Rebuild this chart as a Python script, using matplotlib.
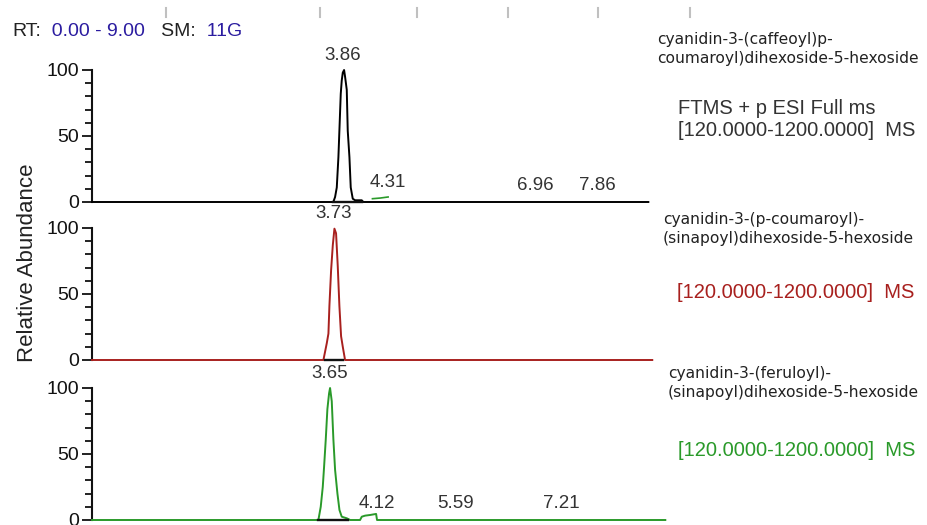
import matplotlib
matplotlib.use("Agg")
import matplotlib.pyplot as plt
from matplotlib.lines import Line2D
from matplotlib.ticker import MultipleLocator

plt.rcParams["font.family"] = ["Liberation Sans", "DejaVu Sans"]

W, H = 928, 525

# chromatogram traces (RT in min, relative abundance %)
rt_1 = [0.0, 3.70, 3.727, 3.753, 3.778, 3.793, 3.814, 3.829, 3.845, 3.865,
        3.88, 3.906, 3.921, 3.947, 3.967, 3.998, 4.034, 4.136, 4.16, 8.53]
ab_1 = [0, 0, 3.8, 11, 34, 54, 82, 92, 98, 100,
        95, 85, 54, 34, 11, 2.5, 1.3, 1.3, 0, 0]
blip_rt_1 = [4.30, 4.42, 4.54]
blip_ab_1 = [2.5, 3.0, 3.8]

rt_2 = [0.0, 3.548, 3.60, 3.625, 3.64, 3.666, 3.692, 3.717, 3.742, 3.768,
        3.793, 3.819, 3.845, 3.88, 8.59]
ab_2 = [0, 0, 12.8, 20, 41, 68, 87, 99.5, 96, 71,
        41, 18, 10, 0, 0]

rt_3 = [0.0, 3.471, 3.507, 3.538, 3.558, 3.584, 3.609, 3.635, 3.65, 3.676,
        3.701, 3.727, 3.763, 3.794, 3.829, 3.906, 3.957, 4.11, 4.136, 4.187,
        4.264, 4.356, 4.37, 8.79]
ab_3 = [0, 0, 10, 25, 40, 61, 84, 96, 100, 90,
        61, 38, 20, 7.6, 2.5, 1.3, 0, 0, 2.5, 3.3,
        3.8, 4.6, 0, 0]

# integration baselines under the main peaks
base_1 = [3.70, 4.14]
base_2 = [3.57, 3.85]
base_3 = [3.47, 3.93]

# peak labels: text, x position, height
labels_1 = [("3.86", 3.85, 100), ("4.31", 4.54, 3.8), ("6.96", 6.79, 2), ("7.86", 7.75, 2)]
labels_2 = [("3.73", 3.71, 100)]
labels_3 = [("3.65", 3.65, 100), ("4.12", 4.37, 2), ("5.59", 5.58, 2), ("7.21", 7.20, 2)]

names = ["cyanidin-3-(caffeoyl)p-\ncoumaroyl)dihexoside-5-hexoside",
         "cyanidin-3-(p-coumaroyl)-\n(sinapoyl)dihexoside-5-hexoside",
         "cyanidin-3-(feruloyl)-\n(sinapoyl)dihexoside-5-hexoside"]
scan_1 = "FTMS + p ESI Full ms\n[120.0000-1200.0000]  MS"
scan_2 = "[120.0000-1200.0000]  MS"
scan_3 = "[120.0000-1200.0000]  MS"

black = "#000000"
red = "#a8201e"
green = "#2a9a2a"
text_gray = "#333333"


def fx(px):
    return px / W


def fy(py):
    return 1 - py / H


fig = plt.figure(figsize=(W / 100, H / 100), dpi=100)

panels = [
    (202, rt_1, ab_1, black, base_1, labels_1),
    (360, rt_2, ab_2, red, base_2, labels_2),
    (520, rt_3, ab_3, green, base_3, labels_3),
]

axes = []
for zero_y, rt, ab, col, base, labels in panels:
    ax = fig.add_axes([fx(92), fy(zero_y), fx(679) - fx(92), 132 / H])
    ax.set_xlim(0, 9)
    ax.set_ylim(0, 100)
    ax.patch.set_alpha(0)
    for s in ["top", "right", "bottom"]:
        ax.spines[s].set_visible(False)
    ax.spines["left"].set_linewidth(1.5)
    ax.spines["left"].set_color("#111111")
    ax.set_xticks([])
    ax.set_yticks([0, 50, 100])
    ax.yaxis.set_minor_locator(MultipleLocator(10))
    ax.tick_params(axis="y", which="major", length=7.5, width=1.3,
                   labelsize=14, pad=2, colors="#111111")
    ax.tick_params(axis="y", which="minor", length=5, width=1.3, colors="#111111")
    ax.plot(rt, ab, color=col, lw=1.4, clip_on=False, zorder=3)
    ax.plot(base, [0, 0], color="#111111", lw=1.7, clip_on=False, zorder=4)
    for txt, x, h in labels:
        ax.annotate(txt, xy=(x, h), xytext=(0, 4), textcoords="offset points",
                    ha="center", va="bottom", fontsize=13.5, color=text_gray,
                    annotation_clip=False)
    axes.append(ax)

axes[0].plot(blip_rt_1, blip_ab_1, color=green, lw=1.2, clip_on=False, zorder=3)

fig.text(fx(28), fy(263), "Relative Abundance", rotation=90, ha="center",
         va="center", fontsize=16, color="#222222")

# header, built piece by piece for the two colours
hdr_blue = "#2b1ca0"
prev = fig.text(fx(12), fy(31), "RT:", fontsize=14, color="#222222", va="center")
pieces = [("  0.00 - 9.00", hdr_blue), ("   SM:", "#222222"), ("  11G", hdr_blue)]
for s, c in pieces:
    prev = fig.add_artist(plt.Annotation(s, xy=(1, 0), xycoords=prev,
                                         va="bottom", ha="left", fontsize=14, color=c))

# right-side annotations
fig.text(fx(657), fy(49), names[0], fontsize=11.2, family="DejaVu Sans",
         color="#222222", va="center", linespacing=1.4)
fig.text(fx(678), fy(119), scan_1, fontsize=14.5, color=text_gray,
         va="center", linespacing=1.2)
fig.text(fx(663), fy(229), names[1], fontsize=11.2, family="DejaVu Sans",
         color="#222222", va="center", linespacing=1.4)
fig.text(fx(677), fy(292), scan_2, fontsize=14.5, color=red, va="center")
fig.text(fx(668), fy(383), names[2], fontsize=11.2, family="DejaVu Sans",
         color="#222222", va="center", linespacing=1.4)
fig.text(fx(678), fy(450), scan_3, fontsize=14.5, color=green, va="center")

# faint tick marks from the cropped panel above
for px in [166, 320, 417, 508, 598, 690]:
    fig.add_artist(Line2D([fx(px), fx(px)], [fy(8), fy(17)],
                          color="#c0c0c0", lw=1.5))

fig.savefig("out.png", dpi=100)
